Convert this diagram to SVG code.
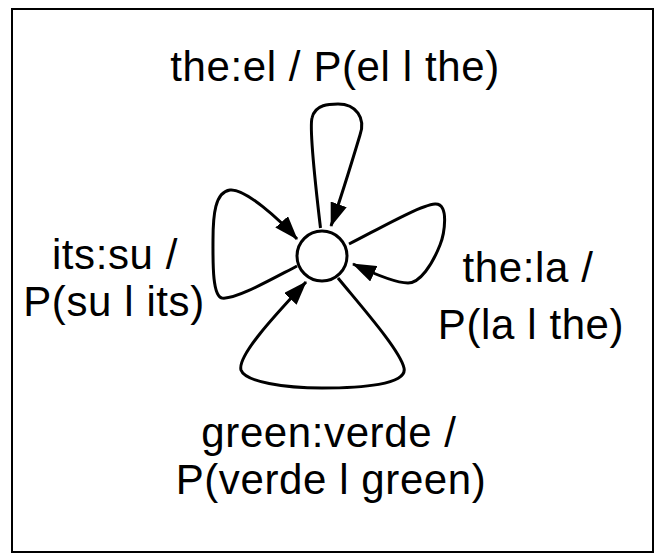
<svg xmlns="http://www.w3.org/2000/svg" width="668" height="560" viewBox="0 0 668 560">
<style>
.lbl{font-family:"Liberation Sans",Arial,Helvetica,sans-serif;font-size:42px;letter-spacing:0.6px;fill:#000;text-anchor:middle}
.edge{fill:none;stroke:#000;stroke-width:3}
</style>
<defs>
<marker id="arr" viewBox="0 0 24 17" refX="23" refY="8.5" markerWidth="24" markerHeight="17" markerUnits="userSpaceOnUse" orient="auto">
<path d="M0,0 L24,8.5 L0,17 z" fill="#000"/>
</marker>
</defs>
<rect x="12" y="9" width="641" height="543" fill="#fff" stroke="#000" stroke-width="2"/>
<g id="connectors">
<path class="edge" marker-end="url(#arr)" d="M320.5 228 C316 190, 309 130, 312 118 C315 104, 330 104, 338 104 C356 104, 366 118, 360 135 C354 155, 342 195, 331 226"/>
<path class="edge" marker-end="url(#arr)" d="M297 266 C270 280, 235 300, 222 298 C212 296, 213 260, 213 240 C213 215, 215 192, 230 190 C245 188, 280 220, 297 239"/>
<path class="edge" marker-end="url(#arr)" d="M349 244 C375 231, 420 205, 435 204 C450 203, 444 235, 440 245 C432 265, 420 283, 408 283 C395 283, 370 272, 353 264"/>
<path class="edge" marker-end="url(#arr)" d="M338 278 C360 305, 400 350, 404 368 C408 385, 360 388, 322 388 C285 388, 245 382, 241 370 C237 355, 280 310, 306 282"/>
</g>
<g id="state">
<circle cx="322" cy="256" r="25" fill="#fff" stroke="#000" stroke-width="3"/>
</g>
<g id="label-top">
<text class="lbl" x="335" y="81">the:el / P(el l the)</text>
</g>
<g id="label-left">
<text class="lbl" x="115" y="269">its:su /</text>
<text class="lbl" x="114" y="316">P(su l its)</text>
</g>
<g id="label-right">
<text class="lbl" x="528" y="282">the:la /</text>
<text class="lbl" x="531" y="339">P(la l the)</text>
</g>
<g id="label-bottom">
<text class="lbl" x="329" y="447">green:verde /</text>
<text class="lbl" x="331" y="494">P(verde l green)</text>
</g>
</svg>
